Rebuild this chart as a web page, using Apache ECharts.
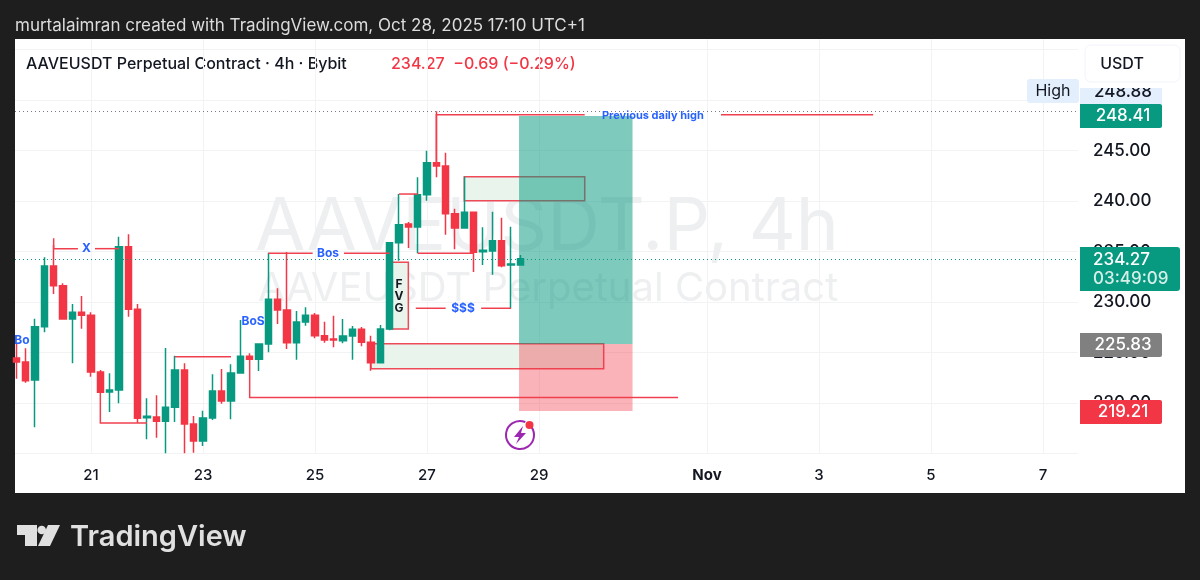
<!DOCTYPE html>
<html>
<head>
<meta charset="utf-8">
<style>
  html, body { margin: 0; padding: 0; background: #1e1e1e; }
  #panel { position: absolute; left: 15px; top: 39px; width: 1170px; height: 454px; background: #fff; }
  #main { position: absolute; left: 0; top: 0; width: 1200px; height: 580px; }
</style>
<script src="https://cdn.jsdelivr.net/npm/echarts@6/dist/echarts.min.js"></script>
</head>
<body>
<div id="panel"></div>
<div id="main"></div>
<script>
// bar slots count 4h bars from Oct 21 00:00
var barSlots = [-8,-7,-6,-5,-4,-3,-2,-1,0,1,2,3,4,5,6,7,8,9,10,11,12,13,14,15,16,17,18,19,20,21,22,23,24,25,26,27,28,29,30,31,32,33,34,35,36,37,38,39,40,41,42,43,44,45,46];
var openPrices = [224.46,224.06,222.28,227.55,233.56,231.61,228.32,228.98,228.68,223.07,221.09,221.29,235.48,229.28,218.54,218.61,218.19,219.57,223.27,217.92,216.24,218.51,221.19,220.20,222.97,224.62,224.33,225.84,230.27,229.21,225.97,228.02,228.68,226.66,226.34,226.17,226.63,227.30,226.01,223.99,227.33,235.87,237.72,237.43,240.62,243.79,243.47,238.74,237.33,238.88,234.98,235.05,236.07,233.66,233.66];
var closePrices = [224.06,222.21,227.55,233.56,231.61,228.32,228.98,228.68,223.07,221.06,221.29,235.48,229.28,218.49,218.68,218.19,219.57,223.27,217.92,216.24,218.51,221.19,220.20,222.97,224.62,224.33,225.84,230.27,229.21,225.97,228.02,228.68,226.66,226.24,226.24,226.63,227.30,226.01,223.99,227.33,235.87,237.65,237.43,240.62,243.79,243.47,238.74,237.33,238.88,234.92,235.12,236.07,233.59,233.76,234.27];
var lowPrices = [222.41,222.01,217.59,227.00,230.79,228.25,223.93,227.36,222.60,221.00,219.11,219.97,228.54,218.02,216.41,216.56,215.02,218.12,215.02,215.08,215.74,218.32,219.93,218.39,222.97,224.26,223.17,225.02,227.82,225.35,224.29,227.65,226.41,225.97,225.51,225.91,224.29,225.61,223.20,223.93,227.20,234.09,235.35,234.82,240.03,242.35,236.66,235.22,237.33,232.97,233.66,232.70,233.44,229.38,233.66];
var highPrices = [225.94,225.42,228.35,234.43,235.64,231.85,229.80,230.59,228.98,223.27,222.94,236.47,236.70,229.80,220.46,220.76,225.45,224.68,223.93,218.71,219.24,222.84,223.37,223.83,228.22,224.92,225.84,234.88,231.36,234.95,229.11,229.48,228.91,228.05,228.64,228.32,227.62,227.52,226.66,227.72,235.87,240.69,237.92,242.35,244.98,248.88,244.78,239.24,242.41,238.88,237.40,238.94,238.35,237.46,234.65];

var dateSlots = [0,12,24,36,48,66,78,90,102];
var dateLabels = ['21','23','25','27','29','Nov','3','5','7'];
var priceTicks = [215,220,225,230,235,240,245,250,255];
var priceLabels = [220,225,230,235,240,245];

var lastPrice = 234.27, dayHigh = 248.88;
var targetPrice = 248.41, entryPrice = 225.83, stopPrice = 219.21;

// drawings: [slot, price] runs
var trendLines = [
  [[-4,236.3],[-4,235.28],[-1.4,235.28]],
  [[0.43,235.28],[3,235.28]],
  [[1,221.06],[1,218.02],[6,218.02]],
  [[9,224.58],[15,224.58]],
  [[17,224.26],[17,220.54],[62.9,220.54]],
  [[19,234.82],[23.75,234.82]],
  [[27.1,234.82],[32,234.82]],
  [[33,240.69],[35,240.69]],
  [[35,234.82],[41,234.82]],
  [[37,243.47],[37,248.54],[52.9,248.54]],
  [[67.5,248.54],[83.8,248.54]],
  [[34.8,229.38],[38,229.38]],
  [[41.8,229.38],[45,229.38]]
];
// [slot from, price top, slot to, price bottom]
var zoneBoxes = [
  [32,233.93,34,227.33],
  [40,242.41,52.9,240.03],
  [30,225.87,54.93,223.40]
];
var positionSlots = [45.86,58.02];
// [text, slot, price, color, size]
var notes = [
  ['X',-0.5,235.28,'#2962ff',12],
  ['Bo',-7.4,226.24,'#2962ff',12],
  ['BoS',17.36,228.12,'#2962ff',12],
  ['Bos',25.4,234.8,'#2962ff',12],
  ['$$$',39.86,229.36,'#2962ff',12],
  ['Previous daily high',60.2,248.46,'#2962ff',11],
  ['F\nV\nG',33,230.6,'#131722',12]
];

var UP = '#089981', DOWN = '#f23645', FONT = 'Inter, "Noto Sans", sans-serif';

var candles = barSlots.map(function(s, i) {
  return [s, openPrices[i], closePrices[i], lowPrices[i], highPrices[i]];
});

function indexData(list) {
  return list.map(function(_, i) { return [i]; });
}

function rectBetween(api, slotA, priceA, slotB, priceB) {
  var a = api.coord([slotA, priceA]);
  var b = api.coord([slotB, priceB]);
  return { x: a[0], y: a[1], width: b[0] - a[0], height: b[1] - a[1] };
}

function tag(text, x, y, w, h, color) {
  return [
    { type: 'rect', z: 20, shape: { x: x, y: y, width: w, height: h, r: [0, 2, 2, 0] }, style: { fill: color } },
    { type: 'text', z: 21, style: { text: text, x: 1123, y: y + h / 2, fill: '#fff', font: '500 17px ' + FONT, align: 'center', verticalAlign: 'middle' } }
  ];
}

var overlays = [].concat(
  [
    { type: 'text', style: { text: 'murtalaimran created with TradingView.com, Oct 28, 2025 17:10 UTC+1', x: 15, y: 26, fill: '#dcdcdc', font: '17px ' + FONT, verticalAlign: 'middle' } },
    { type: 'text', style: { text: 'AAVEUSDT Perpetual Contract · 4h · Bybit', x: 26, y: 64, fill: '#131722', font: '500 16px ' + FONT, verticalAlign: 'middle' } },
    { type: 'text', style: { text: '234.27  −0.69 (−0.29%)', x: 391, y: 64, fill: DOWN, font: '500 16px ' + FONT, verticalAlign: 'middle' } },
    { type: 'rect', z: 22, shape: { x: 1080, y: 83, width: 100, height: 5 }, style: { fill: '#fff' } },
    { type: 'rect', z: 19, shape: { x: 1080, y: 87, width: 82, height: 17 }, style: { fill: '#e3effd' } },
    { type: 'text', z: 19, style: { text: String(dayHigh), x: 1123, y: 92, fill: '#131722', font: '500 17px ' + FONT, align: 'center', verticalAlign: 'middle' } },
    { type: 'rect', z: 22, shape: { x: 1085, y: 45, width: 95, height: 37, r: 6 }, style: { fill: '#fff', stroke: '#f0f3fa' } },
    { type: 'text', z: 23, style: { text: 'USDT', x: 1122, y: 64, fill: '#131722', font: '500 16px ' + FONT, align: 'center', verticalAlign: 'middle' } },
    { type: 'rect', z: 20, shape: { x: 1027, y: 79, width: 52, height: 24, r: 3 }, style: { fill: '#e3effd' } },
    { type: 'text', z: 21, style: { text: 'High', x: 1053, y: 91, fill: '#131722', font: '16px ' + FONT, align: 'center', verticalAlign: 'middle' } }
  ],
  tag(targetPrice.toFixed(2), 1080, 104, 82, 24, UP),
  tag(entryPrice.toFixed(2), 1080, 333, 82, 24, '#808080'),
  tag(stopPrice.toFixed(2), 1080, 400, 82, 24, DOWN),
  [
    { type: 'rect', z: 20, shape: { x: 1080, y: 247, width: 100, height: 44, r: [0, 3, 3, 0] }, style: { fill: UP } },
    { type: 'text', z: 21, style: { text: lastPrice.toFixed(2), x: 1093, y: 260, fill: '#fff', font: '500 17px ' + FONT, verticalAlign: 'middle' } },
    { type: 'text', z: 21, style: { text: '03:49:09', x: 1093, y: 279, fill: '#d5efe9', font: '500 17px ' + FONT, verticalAlign: 'middle' } },
    // signal icon under the last bar
    { type: 'arc', z: 6, shape: { cx: 520, cy: 435, r: 14, startAngle: -0.6, endAngle: 5.1 }, style: { fill: null, stroke: '#9c27b0', lineWidth: 2 } },
    { type: 'polygon', z: 6, shape: { points: [[523,426],[514,437],[519,437],[516,444],[526,433],[521,433]] }, style: { fill: '#9c27b0' } },
    { type: 'circle', z: 6, shape: { cx: 529.5, cy: 425, r: 4 }, style: { fill: DOWN } },
    // footer logo
    { type: 'polygon', shape: { points: [[17,525],[37,525],[37,546],[25,546],[25,535],[17,535]] }, style: { fill: '#e0e0e0' } },
    { type: 'circle', shape: { cx: 41.7, cy: 530, r: 4.3 }, style: { fill: '#e0e0e0' } },
    { type: 'polygon', shape: { points: [[48,525],[60,525],[50,546],[38,546]] }, style: { fill: '#e0e0e0' } },
    { type: 'text', style: { text: 'TradingView', x: 70, y: 537, fill: '#e0e0e0', font: '600 29px ' + FONT, verticalAlign: 'middle' } }
  ]
);

var chart = echarts.init(document.getElementById('main'), null, { renderer: 'canvas' });
chart.setOption({
  animation: false,
  backgroundColor: 'transparent',
  grid: { left: 15, top: 39, width: 1063, height: 415 },
  xAxis: {
    type: 'value', min: -8.143, max: 105.75,
    axisLine: { show: false },
    axisTick: { show: false, customValues: dateSlots },
    splitLine: { show: true, lineStyle: { color: '#f2f3f5', width: 1 } },
    axisLabel: {
      customValues: dateSlots, margin: 14,
      fontFamily: 'Inter', fontSize: 15, fontWeight: 500, color: '#131722',
      formatter: function(v) {
        var label = dateLabels[dateSlots.indexOf(v)];
        return label === 'Nov' ? '{b|Nov}' : label;
      },
      rich: { b: { fontFamily: 'Inter', fontSize: 15, fontWeight: 700, color: '#131722' } }
    }
  },
  yAxis: {
    type: 'value', position: 'right', min: 214.95, max: 256.04,
    axisLine: { show: false },
    axisTick: { show: false, customValues: priceTicks },
    splitLine: { show: true, lineStyle: { color: '#f2f3f5', width: 1 } },
    axisLabel: {
      customValues: priceLabels, margin: 15,
      fontFamily: 'Inter', fontSize: 17, fontWeight: 500, color: '#131722',
      formatter: function(v) { return v.toFixed(2); }
    }
  },
  graphic: { elements: overlays },
  series: [
    {
      // chart watermark
      type: 'custom', z: 0, silent: true, data: [[0]],
      renderItem: function() {
        return { type: 'group', children: [
          { type: 'text', style: { text: 'AAVEUSDT.P, 4h', x: 547, y: 228, fill: '#eeeff1', font: '73px ' + FONT, align: 'center', verticalAlign: 'middle' } },
          { type: 'text', style: { text: 'AAVEUSDT Perpetual Contract', x: 548, y: 289, fill: '#eeeff1', font: '40px ' + FONT, align: 'center', verticalAlign: 'middle' } }
        ] };
      }
    },
    {
      type: 'custom', z: 1, silent: true, data: indexData(zoneBoxes),
      renderItem: function(params, api) {
        var b = zoneBoxes[api.value(0)];
        return { type: 'rect', shape: rectBetween(api, b[0], b[1], b[2], b[3]), style: { fill: '#e9f4ec', stroke: '#ee4a58', lineWidth: 1.5 } };
      }
    },
    {
      // long position: target and stop zones
      type: 'custom', z: 2, silent: true, data: [[0]],
      renderItem: function(params, api) {
        return { type: 'group', children: [
          { type: 'rect', shape: rectBetween(api, positionSlots[0], targetPrice, positionSlots[1], entryPrice), style: { fill: 'rgba(8,153,129,0.52)' } },
          { type: 'rect', shape: rectBetween(api, positionSlots[0], entryPrice, positionSlots[1], stopPrice), style: { fill: 'rgba(242,54,69,0.38)' } }
        ] };
      }
    },
    {
      type: 'line', z: 3, silent: true, symbol: 'none', data: [],
      markLine: {
        silent: true, symbol: 'none', label: { show: false },
        data: [
          { yAxis: dayHigh, lineStyle: { color: '#787b86', type: [1, 3], width: 1 } },
          { yAxis: lastPrice, lineStyle: { color: UP, type: [1, 3], width: 1 } }
        ]
      }
    },
    {
      type: 'candlestick', z: 4, barWidth: 7, data: candles,
      encode: { x: 0, y: [1, 2, 3, 4] },
      itemStyle: { color: UP, color0: DOWN, borderColor: UP, borderColor0: DOWN, borderWidth: 1.5 }
    },
    {
      type: 'custom', z: 5, silent: true, data: indexData(trendLines),
      renderItem: function(params, api) {
        var pts = trendLines[api.value(0)].map(function(p) { return api.coord(p); });
        return { type: 'polyline', shape: { points: pts }, style: { fill: null, stroke: '#f0404f', lineWidth: 1.5 } };
      }
    },
    {
      type: 'custom', z: 7, silent: true, data: indexData(notes),
      renderItem: function(params, api) {
        var n = notes[api.value(0)];
        var p = api.coord([n[1], n[2]]);
        return { type: 'text', style: { text: n[0], x: p[0], y: p[1], fill: n[3], font: '700 ' + n[4] + 'px ' + FONT, align: 'center', verticalAlign: 'middle' } };
      }
    }
  ]
});
</script>
</body>
</html>
